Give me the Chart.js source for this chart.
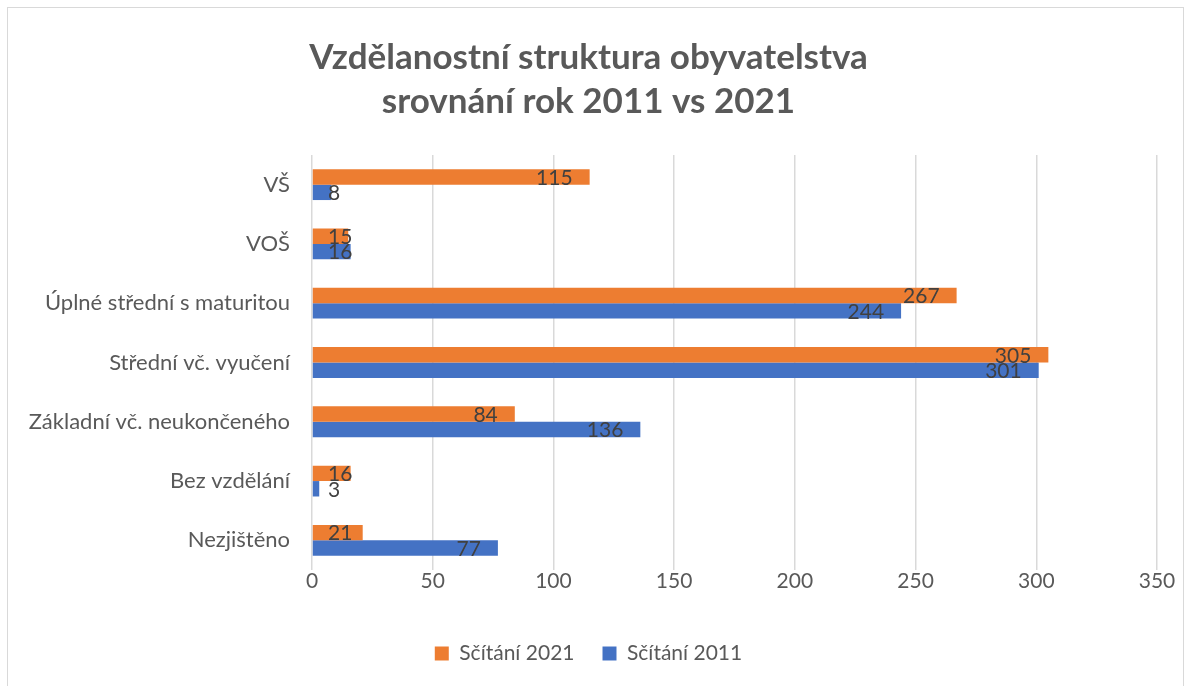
<!DOCTYPE html>
<html>
<head>
<meta charset="utf-8">
<script src="https://cdn.jsdelivr.net/npm/chart.js@4"></script>
<style>
  html, body { margin: 0; padding: 0; background: #fff; }
  #wrap { position: relative; width: 1192px; height: 686px; }
  #frame { position: absolute; left: 7px; top: 7px; width: 1177px; height: 690px; border: 1px solid #d9d9d9; box-sizing: border-box; }
  canvas { position: absolute; left: 0; top: 0; }
</style>
</head>
<body>
<div id="wrap">
  <div id="frame"></div>
  <canvas id="chart" width="1192" height="686"></canvas>
</div>
<script>
const categories = [
  "VŠ",
  "VOŠ",
  "Úplné střední s maturitou",
  "Střední vč. vyučení",
  "Základní vč. neukončeného",
  "Bez vzdělání",
  "Nezjištěno"
];
const census2021 = [115, 15, 267, 305, 84, 16, 21];
const census2011 = [8, 16, 244, 301, 136, 3, 77];
const xTicks = [0, 50, 100, 150, 200, 250, 300, 350];

const FONT = "Lato, 'Open Sans', sans-serif";

// ----------------------
// DATA LABELS (inside end, pushed off the axis for short bars)
// ----------------------
const barLabels = {
  id: "barLabels",
  afterDatasetsDraw(chart) {
    const ctx = chart.ctx;
    const base = chart.scales.x.getPixelForValue(0);
    ctx.save();
    ctx.font = "21px " + FONT;
    ctx.fillStyle = "#404040";
    ctx.textBaseline = "middle";
    ctx.textAlign = "left";
    chart.data.datasets.forEach((ds, i) => {
      chart.getDatasetMeta(i).data.forEach((bar, j) => {
        const text = String(ds.data[j]);
        const w = ctx.measureText(text).width;
        const x = Math.max(base + 16, bar.x - 17 - w);
        ctx.fillText(text, x, bar.y + 1);
      });
    });
    ctx.restore();
  }
};

new Chart(document.getElementById("chart"), {
  type: "bar",
  data: {
    labels: categories,
    datasets: [
      { label: "Sčítání 2021", data: census2021, backgroundColor: "#ED7D31" },
      { label: "Sčítání 2011", data: census2011, backgroundColor: "#4472C4" }
    ]
  },
  options: {
    indexAxis: "y",
    responsive: false,
    animation: false,
    categoryPercentage: 0.52,
    barPercentage: 1,
    layout: { padding: { left: 20, right: 35, top: 0, bottom: 12 } },
    scales: {
      x: {
        min: 0,
        max: 350,
        afterBuildTicks: s => { s.ticks = xTicks.map(v => ({ value: v })); },
        afterFit: s => { s.height = 45; },
        grid: { color: "#d9d9d9", lineWidth: 1.5, drawTicks: false },
        border: { display: false },
        ticks: { color: "#595959", font: { family: FONT, size: 21 }, padding: -1 }
      },
      y: {
        grid: { display: false },
        border: { display: false },
        afterFit: s => { s.width = 292; },
        ticks: { color: "#595959", font: { family: FONT, size: 22 }, padding: 14 }
      }
    },
    plugins: {
      title: {
        display: true,
        text: ["Vzdělanostní struktura obyvatelstva", "srovnání rok 2011 vs 2021"],
        color: "#595959",
        font: { family: FONT, size: 35, weight: "bold", lineHeight: 1.257 },
        padding: { top: 36, bottom: 31 }
      },
      legend: {
        position: "bottom",
        labels: {
          color: "#595959",
          font: { family: FONT, size: 21 },
          boxWidth: 14,
          boxHeight: 14,
          padding: 28
        }
      },
      tooltip: { enabled: false }
    }
  },
  plugins: [barLabels]
});
</script>
</body>
</html>
